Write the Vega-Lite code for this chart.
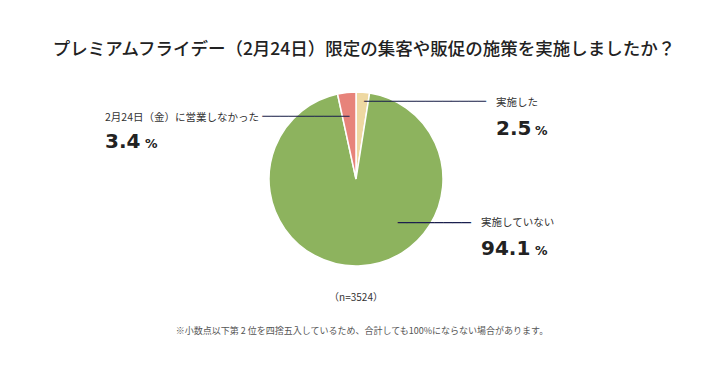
{
  "$schema": "https://vega.github.io/schema/vega-lite/v6.json",
  "autosize": {"type": "none"},
  "width": 712,
  "height": 200,
  "padding": {"left": 0, "top": 79, "right": 16, "bottom": 92},
  "background": "#ffffff",
  "config": {"view": {"stroke": null}},
  "title": {
    "text": "プレミアムフライデー（2月24日）限定の集客や販促の施策を実施しましたか？",
    "font": "Noto Sans CJK JP",
    "fontSize": 17.5,
    "fontWeight": 500,
    "color": "#222222",
    "anchor": "middle",
    "baseline": "bottom",
    "offset": -21,
    "dx": 8
  },
  "layer": [
    {
      "data": {"values": [
        {"label": "実施した", "pct": 2.5, "ord": 1},
        {"label": "実施していない", "pct": 94.1, "ord": 2},
        {"label": "2月24日（金）に営業しなかった", "pct": 3.4, "ord": 3}
      ]},
      "encoding": {
        "theta": {"field": "pct", "type": "quantitative", "stack": true},
        "order": {"field": "ord", "type": "quantitative"}
      },
      "layer": [
        {
          "mark": {"type": "arc", "outerRadius": 87, "stroke": "#ffffff", "strokeWidth": 1.5},
          "encoding": {
            "color": {"field": "label", "type": "nominal", "legend": null,
              "scale": {"domain": ["実施した", "実施していない", "2月24日（金）に営業しなかった"],
                        "range": ["#EED8A2", "#8DB35E", "#E7837A"]}}
          }
        },
        {
          "mark": {"type": "text", "radius": 80, "align": "left", "baseline": "middle", "dx": 1.7, "dy": 2.5, "font": "DejaVu Sans Mono", "fontSize": 14.47, "fill": "#1B1F4E"},
          "encoding": {"text": {"condition": {"test": "datum.ord === 1", "value": "──────────────"}, "value": ""}}
        },
        {
          "mark": {"type": "text", "radius": 80, "align": "right", "baseline": "middle", "dx": 1.8, "dy": 17.8, "font": "DejaVu Sans Mono", "fontSize": 14.45, "fill": "#1B1F4E"},
          "encoding": {"text": {"condition": {"test": "datum.ord === 3", "value": "──────────"}, "value": ""}}
        },
        {
          "mark": {"type": "text", "radius": 80, "align": "left", "baseline": "middle", "dx": 39.4, "dy": -36.3, "font": "DejaVu Sans Mono", "fontSize": 15.2, "fill": "#1B1F4E"},
          "encoding": {"text": {"condition": {"test": "datum.ord === 2", "value": "────────"}, "value": ""}}
        },
        {
          "mark": {"type": "text", "radius": 80, "align": "left", "baseline": "middle", "dx": 133.7, "dy": 3.8, "font": "Noto Sans CJK JP", "fontSize": 10.5, "fill": "#333333"},
          "encoding": {"text": {"condition": {"test": "datum.ord === 1", "field": "label", "type": "nominal"}, "value": ""}}
        },
        {
          "mark": {"type": "text", "radius": 80, "align": "left", "baseline": "middle", "dx": -242.5, "dy": 18.5, "font": "Noto Sans CJK JP", "fontSize": 10.5, "fill": "#333333"},
          "encoding": {"text": {"condition": {"test": "datum.ord === 3", "field": "label", "type": "nominal"}, "value": ""}}
        },
        {
          "mark": {"type": "text", "radius": 80, "align": "left", "baseline": "middle", "dx": 122.7, "dy": -35.5, "font": "Noto Sans CJK JP", "fontSize": 10.5, "fill": "#333333"},
          "encoding": {"text": {"condition": {"test": "datum.ord === 2", "field": "label", "type": "nominal"}, "value": ""}}
        },
        {
          "mark": {"type": "text", "radius": 80, "align": "left", "baseline": "alphabetic", "dx": 133.7, "dy": 35.8, "font": "DejaVu Sans", "fontWeight": "bold", "fontSize": 20, "fill": "#222222"},
          "encoding": {"text": {"condition": {"test": "datum.ord === 1", "field": "pct", "type": "quantitative", "format": ".1f"}, "value": ""}}
        },
        {
          "mark": {"type": "text", "radius": 80, "align": "left", "baseline": "alphabetic", "dx": -242.5, "dy": 48.5, "font": "DejaVu Sans", "fontWeight": "bold", "fontSize": 20, "fill": "#222222"},
          "encoding": {"text": {"condition": {"test": "datum.ord === 3", "field": "pct", "type": "quantitative", "format": ".1f"}, "value": ""}}
        },
        {
          "mark": {"type": "text", "radius": 80, "align": "left", "baseline": "alphabetic", "dx": 122.7, "dy": -4, "font": "DejaVu Sans", "fontWeight": "bold", "fontSize": 20, "fill": "#222222"},
          "encoding": {"text": {"condition": {"test": "datum.ord === 2", "field": "pct", "type": "quantitative", "format": ".1f"}, "value": ""}}
        },
        {
          "mark": {"type": "text", "radius": 80, "align": "left", "baseline": "alphabetic", "dx": 172.7, "dy": 35.8, "font": "DejaVu Sans", "fontWeight": "bold", "fontSize": 12.5, "fill": "#222222"},
          "encoding": {"text": {"condition": {"test": "datum.ord === 1", "value": "%"}, "value": ""}}
        },
        {
          "mark": {"type": "text", "radius": 80, "align": "left", "baseline": "alphabetic", "dx": -202.5, "dy": 48.5, "font": "DejaVu Sans", "fontWeight": "bold", "fontSize": 12.5, "fill": "#222222"},
          "encoding": {"text": {"condition": {"test": "datum.ord === 3", "value": "%"}, "value": ""}}
        },
        {
          "mark": {"type": "text", "radius": 80, "align": "left", "baseline": "alphabetic", "dx": 176.7, "dy": -4, "font": "DejaVu Sans", "fontWeight": "bold", "fontSize": 12.5, "fill": "#222222"},
          "encoding": {"text": {"condition": {"test": "datum.ord === 2", "value": "%"}, "value": ""}}
        }
      ]
    },
    {
      "data": {"values": [{"note": "（n=3524）"}]},
      "mark": {"type": "text", "align": "center", "baseline": "middle", "dy": 119, "font": "Noto Sans CJK JP", "fontSize": 10, "fill": "#333333"},
      "encoding": {"text": {"field": "note", "type": "nominal"}}
    },
    {
      "data": {"values": [{"note": "※小数点以下第 2 位を四捨五入しているため、合計しても100%にならない場合があります。"}]},
      "mark": {"type": "text", "align": "center", "baseline": "middle", "dx": 6, "dy": 152, "font": "Noto Sans CJK JP", "fontSize": 9, "fill": "#555555"},
      "encoding": {"text": {"field": "note", "type": "nominal"}}
    }
  ]
}
